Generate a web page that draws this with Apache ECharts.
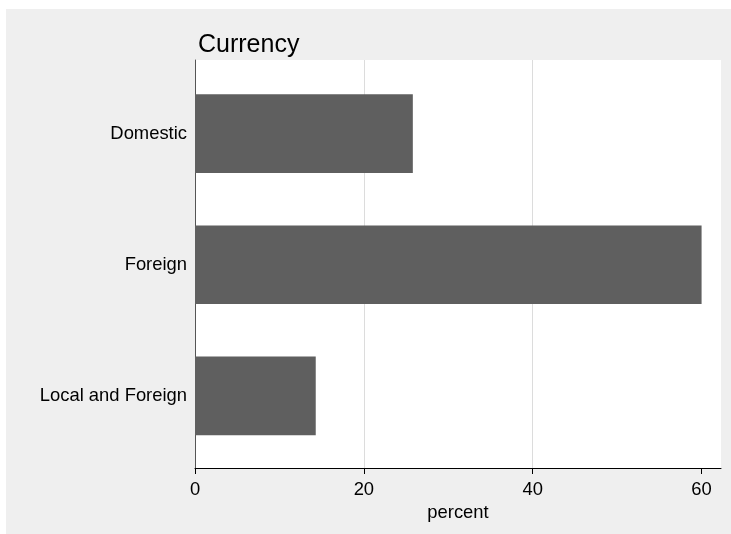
<!DOCTYPE html>
<html><head><meta charset="utf-8">
<script src="https://cdn.jsdelivr.net/npm/echarts@6/dist/echarts.min.js"></script>
<style>html,body{margin:0;padding:0;background:#fff;}#c{position:absolute;left:6px;top:9px;width:725px;height:525px;}</style>
</head><body><div id="c"></div>
<script>
const categories = ['Domestic', 'Foreign', 'Local and Foreign'];
const percentValues = [25.8, 60.0, 14.3];
const xTicks = [0, 20, 40, 60];
const titleText = 'Currency';
const xAxisName = 'percent';

const FF = '"Liberation Sans", Arial, Helvetica, sans-serif';
const chart = echarts.init(document.getElementById('c'));
chart.setOption({
  backgroundColor: '#efefef',
  animation: false,
  title: {
    text: titleText, left: 192, top: 24, padding: 0,
    textStyle: {fontFamily: FF, fontSize: 25, fontWeight: 'normal', color: '#000'}
  },
  grid: [
    {left: 189, right: 10, top: 51, bottom: 66, show: true, backgroundColor: '#fff', borderWidth: 0},
    {left: 189, right: 10, top: 59, bottom: 72.5}
  ],
  xAxis: [
    {
      gridIndex: 0, type: 'value', min: 0, max: 62.3, interval: 20,
      axisLine: {show: true, onZero: false, lineStyle: {color: '#000', width: 1}},
      axisTick: {show: true, length: 6, customValues: xTicks, lineStyle: {color: '#000'}},
      axisLabel: {customValues: xTicks, fontSize: 18.4, fontFamily: FF, color: '#000', margin: 13},
      splitLine: {show: true, showMinLine: false, showMaxLine: false, lineStyle: {color: '#dcdcdc', width: 1}},
      name: xAxisName, nameLocation: 'middle', nameGap: 30,
      nameTextStyle: {fontSize: 18.4, fontFamily: FF, color: '#000'}
    },
    {gridIndex: 1, type: 'value', min: 0, max: 62.3, show: false}
  ],
  yAxis: [
    {
      gridIndex: 0, type: 'value', min: 0, max: 1,
      axisLine: {show: true, onZero: false, lineStyle: {color: '#555', width: 1}},
      axisTick: {show: false}, axisLabel: {show: false}, splitLine: {show: false}
    },
    {
      gridIndex: 1, type: 'category', inverse: true, data: categories,
      axisLine: {show: false}, axisTick: {show: false},
      axisLabel: {fontSize: 18.4, fontFamily: FF, color: '#000', margin: 8}
    }
  ],
  series: [{
    type: 'bar', xAxisIndex: 1, yAxisIndex: 1, data: percentValues,
    barCategoryGap: '40%', itemStyle: {color: '#5f5f5f'}
  }]
});
</script></body></html>
